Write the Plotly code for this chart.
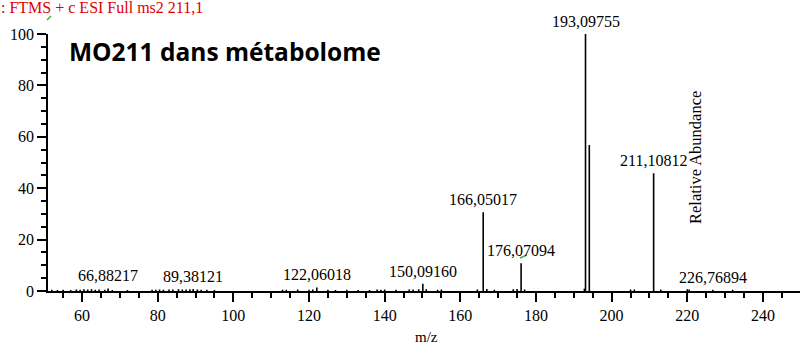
import plotly.graph_objects as go

# Labelled peaks (m/z, relative abundance)
label_mz = [66.88217, 89.38121, 122.06018, 150.09160, 166.05017, 176.07094, 193.09755, 211.10812, 226.76894]
label_ab = [1.0, 0.8, 1.4, 2.8, 30.6, 10.8, 100.0, 45.8, 0.5]
label_txt = ["66,88217", "89,38121", "122,06018", "150,09160", "166,05017", "176,07094",
             "193,09755", "211,10812", "226,76894"]

# Other (unlabelled) peaks
other_mz = [194.1, 52.0, 53.5, 55.0, 57.0, 58.5, 59.5, 60.5, 61.5, 62.5, 63.5, 64.5, 66.0, 68.0,
            72.0, 78.5, 79.5, 80.5, 81.5, 83.0, 84.0, 85.5, 86.5, 87.5, 88.5, 90.5, 91.5, 93.0, 95.0,
            113.0, 114.0, 117.0, 120.0, 121.0, 125.0, 127.0, 130.0, 133.0, 136.0, 138.0, 139.0,
            140.0, 143.0, 146.5, 147.5, 149.0, 151.0, 154.0, 155.0, 164.5, 167.0, 169.0, 174.0,
            175.0, 177.0, 192.8, 205.0, 206.0, 213.0, 220.0, 220.5, 232.0]
other_ab = [56.8, 0.5, 0.4, 0.5, 0.4, 0.6, 0.5, 0.7, 0.6, 0.7, 0.5, 0.6, 0.5, 0.4,
            0.4, 0.5, 0.5, 0.6, 0.5, 0.6, 0.6, 0.7, 0.6, 0.6, 0.7, 0.6, 0.5, 0.5, 0.4,
            0.5, 0.5, 0.6, 0.5, 0.6, 0.5, 0.4, 0.5, 0.4, 0.4, 0.6, 0.5,
            0.6, 0.5, 0.6, 0.6, 0.7, 0.7, 0.5, 0.6, 0.6, 0.8, 0.5, 0.7,
            0.8, 0.6, 0.9, 0.6, 0.6, 0.6, 0.7, 0.6, 0.5]

title_text = "MO211 dans métabolome"
header_text = ": FTMS + c ESI Full ms2 211,1"
yaxis_title = "Relative Abundance"
xaxis_title = "m/z"

W, H = 800, 345
L, R, T, B = 48, 0, 34, 54
PW, PH = W - L - R, H - T - B


def px(x):
    return (x - L) / PW


def py(y):
    return 1 - (y - T) / PH


all_mz = label_mz + other_mz
all_ab = label_ab + other_ab
xs, ys = [], []
for m, a in zip(all_mz, all_ab):
    xs += [m, m, None]
    ys += [0, a, None]

fig = go.Figure()
fig.add_trace(go.Scatter(x=xs, y=ys, mode="lines", line=dict(color="black", width=1.6),
                         hoverinfo="skip", showlegend=False, cliponaxis=False))

serif = "Liberation Serif"
for m, a, t in zip(label_mz, label_ab, label_txt):
    fig.add_annotation(x=m, y=a, text=t, showarrow=False, yanchor="bottom", yshift=2,
                       font=dict(family=serif, size=16, color="black"))

fig.add_annotation(xref="paper", yref="paper", x=px(67), y=py(51), text=title_text,
                   showarrow=False, xanchor="left", yanchor="middle",
                   font=dict(family="Open Sans", size=24.5, color="black", weight="bold"))
fig.add_annotation(xref="paper", yref="paper", x=px(-1), y=py(8), text=header_text,
                   showarrow=False, xanchor="left", yanchor="middle",
                   font=dict(family=serif, size=16, color="#e00000"))
fig.add_annotation(xref="paper", yref="paper", x=px(695), y=py(158),
                   text=yaxis_title, textangle=-90, showarrow=False,
                   xanchor="center", yanchor="middle",
                   font=dict(family=serif, size=16.5, color="black"))
fig.add_annotation(xref="paper", yref="paper", x=px(426), y=py(337),
                   text=xaxis_title, showarrow=False,
                   xanchor="center", yanchor="middle",
                   font=dict(family=serif, size=15, color="black"))

# small green marks seen in the reference
for (x0, y0, x1, y1) in [(47, 20, 51, 16), (520, 258, 527, 255)]:
    fig.add_shape(type="line", xref="paper", yref="paper", x0=px(x0), y0=py(y0), x1=px(x1), y1=py(y1),
                  line=dict(color="#3cb043", width=1.5))

fig.update_layout(
    width=W, height=H,
    margin=dict(l=L, r=R, t=T, b=B),
    plot_bgcolor="white", paper_bgcolor="white",
    xaxis=dict(range=[51, 249.8], tick0=0, dtick=20, ticks="outside", ticklen=9, tickwidth=1.5,
               tickcolor="black", showline=True, linecolor="black", linewidth=1.5,
               showgrid=False, zeroline=False,
               tickfont=dict(family=serif, size=16, color="black"),
               minor=dict(dtick=5, ticks="outside", ticklen=5, tickwidth=1.5, tickcolor="black")),
    yaxis=dict(range=[0, 100], tick0=0, dtick=20, ticks="outside", ticklen=9, tickwidth=1.5,
               tickcolor="black", showline=True, linecolor="black", linewidth=1.5,
               showgrid=False, zeroline=False,
               tickfont=dict(family=serif, size=16, color="black"),
               minor=dict(dtick=5, ticks="outside", ticklen=5, tickwidth=1.5, tickcolor="black")),
)

fig.write_html("out.html", config={"displayModeBar": False},
               post_script="document.body.style.margin='0px';")
